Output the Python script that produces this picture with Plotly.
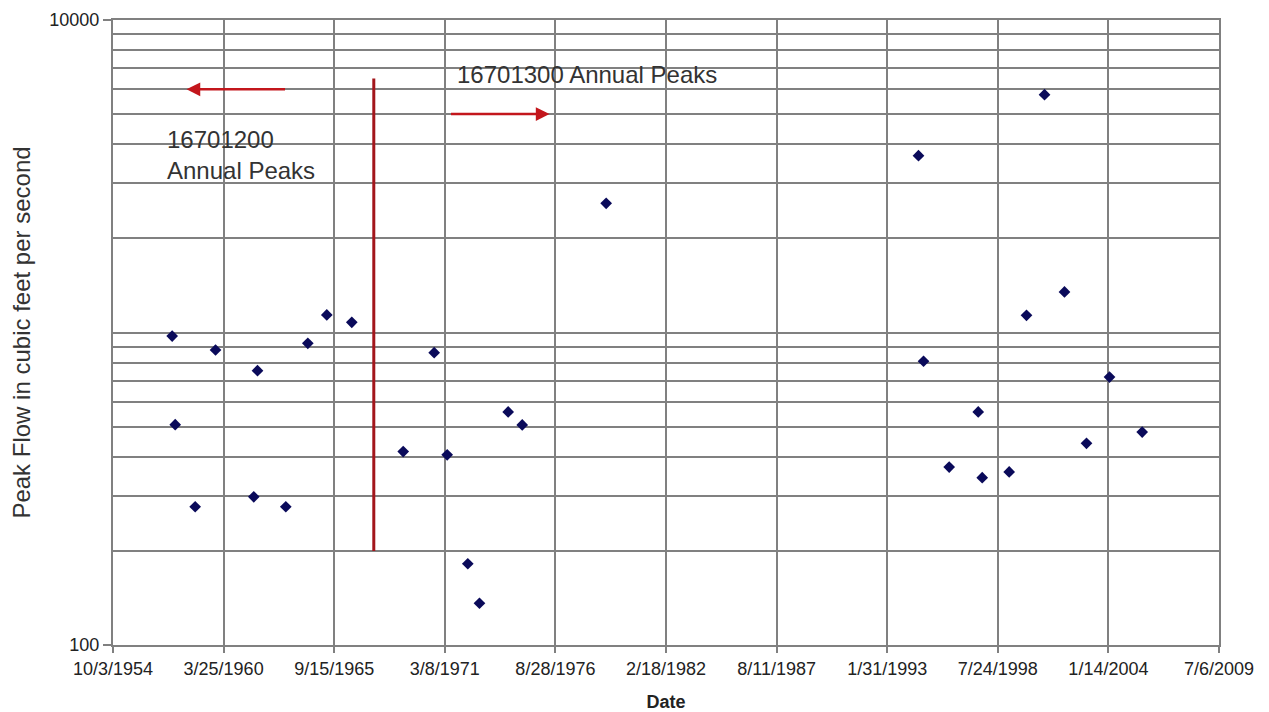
import math
import plotly.graph_objects as go

# Annual peak flows (cfs) by date of peak
peak_dates = [
    "1957-09-07", "1957-11-01", "1958-10-28", "1959-10-31", "1961-09-22",
    "1961-11-28", "1963-04-24", "1964-05-26", "1965-05-04", "1966-07-30",
    "1969-02-14", "1970-08-28", "1971-04-20", "1972-04-27", "1972-11-24",
    "1974-04-27", "1975-01-06", "1979-03-04", "1994-08-20", "1994-11-19",
    "1996-02-26", "1997-08-04", "1997-10-15", "1999-02-15", "1999-12-25",
    "2000-11-15", "2001-11-11", "2002-12-14", "2004-02-03", "2005-09-16",
]
peak_flows = [
    974, 507, 277, 879, 298,
    755, 277, 923, 1138, 1078,
    416, 862, 406, 182, 136,
    557, 506, 2591, 3679, 809,
    371, 557, 343, 358, 1135,
    5768, 1348, 442, 720, 480,
]

# Station change marker and labels
divider_dates = ["1967-09-01", "1967-09-01"]
divider_flows = [200, 6500]
left_arrow = {"tail": "1963-05-07", "head": "1958-05-24", "flow": 6000}
right_arrow = {"tail": "1971-06-01", "head": "1976-05-14", "flow": 5000}
left_label = {"date": "1957-04-22", "flow": 3700, "text": "16701200<br>Annual Peaks"}
right_label = {"date": "1971-09-07", "flow": 6670, "text": "16701300 Annual Peaks"}

x_tick_vals = [
    "1954-10-03", "1960-03-25", "1965-09-15", "1971-03-08", "1976-08-28",
    "1982-02-18", "1987-08-11", "1993-01-31", "1998-07-24", "2004-01-14",
    "2009-07-06",
]
x_tick_text = [
    "10/3/1954", "3/25/1960", "9/15/1965", "3/8/1971", "8/28/1976",
    "2/18/1982", "8/11/1987", "1/31/1993", "7/24/1998", "1/14/2004",
    "7/6/2009",
]
y_major = [100, 10000]
y_minor = [200, 300, 400, 500, 600, 700, 800, 900, 1000,
           2000, 3000, 4000, 5000, 6000, 7000, 8000, 9000]

FONT = "Liberation Sans, Arial, sans-serif"
GRID = "#808080"
ARROW_RED = "#c3161c"
LINE_RED = "#a3161b"

fig = go.Figure()

fig.add_trace(go.Scatter(
    x=divider_dates, y=divider_flows, mode="lines",
    line=dict(color=LINE_RED, width=3), hoverinfo="skip", showlegend=False,
))

fig.add_trace(go.Scatter(
    x=peak_dates, y=peak_flows, mode="markers",
    marker=dict(symbol="diamond", size=9, color="#0a0a5a"),
    showlegend=False,
))

for arr in (left_arrow, right_arrow):
    fig.add_annotation(
        x=arr["head"], y=math.log10(arr["flow"]),
        ax=arr["tail"], ay=math.log10(arr["flow"]),
        xref="x", yref="y", axref="x", ayref="y",
        showarrow=True, arrowhead=2, arrowsize=1.1, arrowwidth=2.5,
        arrowcolor=ARROW_RED, text="",
    )

for lab in (left_label, right_label):
    fig.add_annotation(
        x=lab["date"], y=math.log10(lab["flow"]), xref="x", yref="y",
        text=lab["text"], showarrow=False, xanchor="left", yanchor="middle",
        align="left", font=dict(family=FONT, size=24, color="#333333"),
    )

fig.update_layout(
    width=1269, height=712,
    margin=dict(l=113, r=50, t=20, b=67),
    paper_bgcolor="white", plot_bgcolor="white",
    font=dict(family=FONT, color="#222222"),
)

fig.update_xaxes(
    type="date",
    automargin=False,
    range=[x_tick_vals[0], x_tick_vals[-1]],
    tickmode="array", tickvals=x_tick_vals, ticktext=x_tick_text,
    tickfont=dict(size=18, family=FONT, color="#222222"),
    ticks="outside", ticklen=6, tickcolor=GRID, tickwidth=1.5,
    showgrid=True, gridcolor=GRID, gridwidth=1.5,
    showline=True, linecolor=GRID, linewidth=2, mirror=True,
    zeroline=False,
    title=dict(text="<b>Date</b>", font=dict(size=18, family=FONT, color="#222222"),
               standoff=19),
)

fig.update_yaxes(
    type="log",
    automargin=False,
    range=[2, 4],
    tickmode="array", tickvals=y_major, ticktext=[str(v) for v in y_major],
    tickfont=dict(size=18, family=FONT, color="#222222"),
    ticks="outside", ticklen=8, tickcolor=GRID, tickwidth=1.5,
    showgrid=True, gridcolor=GRID, gridwidth=1.5,
    minor=dict(tickmode="array", tickvals=y_minor, showgrid=True,
               gridcolor=GRID, gridwidth=1.5, ticks=""),
    showline=True, linecolor=GRID, linewidth=2, mirror=True,
    zeroline=False,
    title=dict(text="Peak Flow in cubic feet per second",
               font=dict(size=24, family=FONT, color="#333333"), standoff=12),
)

fig.write_html("out.html")
